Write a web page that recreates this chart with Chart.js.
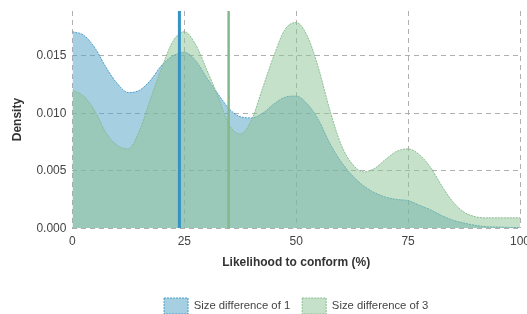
<!DOCTYPE html>
<html>
<head>
<meta charset="utf-8">
<script src="https://cdn.jsdelivr.net/npm/chart.js@4.4.1/dist/chart.umd.min.js"></script>
<style>
  html, body { margin: 0; padding: 0; background: #fff; }
  #wrap { width: 527px; height: 314px; }
</style>
</head>
<body>
<div id="wrap"><canvas id="chart"></canvas></div>
<script>
// likelihood to conform (%), sampled every 2.5
const xValues = [0, 2.5, 5, 7.5, 10, 12.5, 15, 17.5, 20, 22.5, 25, 27.5, 30, 32.5, 35, 37.5, 40,
  42.5, 45, 47.5, 50, 52.5, 55, 57.5, 60, 62.5, 65, 67.5, 70, 72.5, 75, 77.5, 80, 82.5, 85, 87.5,
  90, 92.5, 95, 97.5, 100];

const densitySize1 = [0.0171, 0.0168, 0.0157, 0.0140, 0.0126, 0.0118, 0.0120, 0.0129, 0.0142,
  0.0150, 0.0153, 0.0146, 0.0131, 0.0117, 0.0104, 0.0097, 0.0096, 0.0100, 0.0108, 0.0114,
  0.0115, 0.0108, 0.0094, 0.0074, 0.0058, 0.0046, 0.0037, 0.0031, 0.0027, 0.0025, 0.0024,
  0.0020, 0.0016, 0.0011, 0.0007, 0.00045, 0.00025, 0.00013, 0.0001, 0.00007, 0.00006];

const densitySize3 = [0.0120, 0.0115, 0.0102, 0.0083, 0.0072, 0.0069, 0.0085, 0.0113, 0.0140,
  0.0163, 0.0171, 0.0160, 0.0138, 0.0115, 0.0090, 0.0082, 0.0094, 0.0122, 0.0150, 0.0173,
  0.0179, 0.0167, 0.0139, 0.0103, 0.0073, 0.0056, 0.0049, 0.0052, 0.0060, 0.0067, 0.0069,
  0.0064, 0.0053, 0.0037, 0.0023, 0.0014, 0.0010, 0.0009, 0.0009, 0.0009, 0.0009];

const seriesNames = ['Size difference of 1', 'Size difference of 3'];
const meanValues = [23.9, 34.9];

const yTicks = [0, 0.005, 0.010, 0.015];
const xTicks = [0, 25, 50, 75, 100];
const yTop = 0.0189;

const toPoints = ys => xValues.map((x, i) => ({ x: x, y: ys[i] }));
const meanLine = m => [{ x: m, y: 0 }, { x: m, y: yTop }];

const font = 'Helvetica, "Liberation Sans", Arial, sans-serif';

const datasets = [
  {
    label: seriesNames[0],
    data: toPoints(densitySize1),
    backgroundColor: 'rgba(80, 160, 198, 0.5)',
    borderColor: 'rgba(60, 150, 200, 0.9)',
    borderWidth: 1,
    borderDash: [2, 1],
    fill: 'origin',
    pointRadius: 0,
    cubicInterpolationMode: 'monotone',
    order: 2
  },
  {
    label: seriesNames[1],
    data: toPoints(densitySize3),
    backgroundColor: 'rgba(142, 196, 148, 0.5)',
    borderColor: 'rgba(130, 185, 140, 0.9)',
    borderWidth: 1,
    borderDash: [2, 1],
    fill: 'origin',
    pointRadius: 0,
    cubicInterpolationMode: 'monotone',
    order: 1
  },
  {
    label: 'mean1',
    data: meanLine(meanValues[0]),
    borderColor: '#3592c2',
    borderWidth: 3,
    pointRadius: 0,
    fill: false,
    order: 0
  },
  {
    label: 'mean3',
    data: meanLine(meanValues[1]),
    borderColor: '#85b98c',
    borderWidth: 2.5,
    pointRadius: 0,
    fill: false,
    order: 0
  }
];

new Chart(document.getElementById('chart'), {
  type: 'line',
  data: { datasets: datasets },
  options: {
    responsive: true,
    maintainAspectRatio: false,
    animation: false,
    layout: { padding: { top: 11, right: 7, left: 10, bottom: -10 } },
    plugins: {
      tooltip: { enabled: false },
      legend: {
        position: 'bottom',
        fullSize: false,
        labels: {
          filter: item => item.datasetIndex < 2,
          sort: (a, b) => a.datasetIndex - b.datasetIndex,
          boxWidth: 24,
          boxHeight: 16,
          padding: 12,
          color: '#444',
          font: { family: font, size: 11.3 }
        }
      }
    },
    scales: {
      x: {
        type: 'linear',
        min: 0,
        max: 100,
        afterBuildTicks: scale => { scale.ticks = xTicks.map(v => ({ value: v })); },
        afterFit: scale => { scale.paddingRight = 0; scale.paddingLeft = 0; },
        grid: { color: '#b0b0b0', lineWidth: 1, drawTicks: false },
        border: { display: false, dash: [5, 4] },
        ticks: { color: '#444', padding: 6, font: { family: font, size: 12 } },
        title: {
          display: true,
          text: 'Likelihood to conform (%)',
          color: '#333',
          font: { family: font, size: 12, weight: 'bold' },
          padding: { top: 1, bottom: 16 }
        }
      },
      y: {
        min: 0,
        max: yTop,
        afterBuildTicks: scale => { scale.ticks = yTicks.map(v => ({ value: v })); },
        afterFit: scale => { scale.paddingTop = 0; },
        grid: { color: '#b0b0b0', lineWidth: 1, drawTicks: false },
        border: { display: false, dash: [5, 4] },
        ticks: {
          color: '#444',
          padding: 6,
          font: { family: font, size: 12 },
          callback: v => v.toFixed(3)
        },
        title: {
          display: true,
          text: 'Density',
          color: '#333',
          font: { family: font, size: 12, weight: 'bold' },
          padding: { top: 0, bottom: 6 }
        }
      }
    }
  }
});
</script>
</body>
</html>
